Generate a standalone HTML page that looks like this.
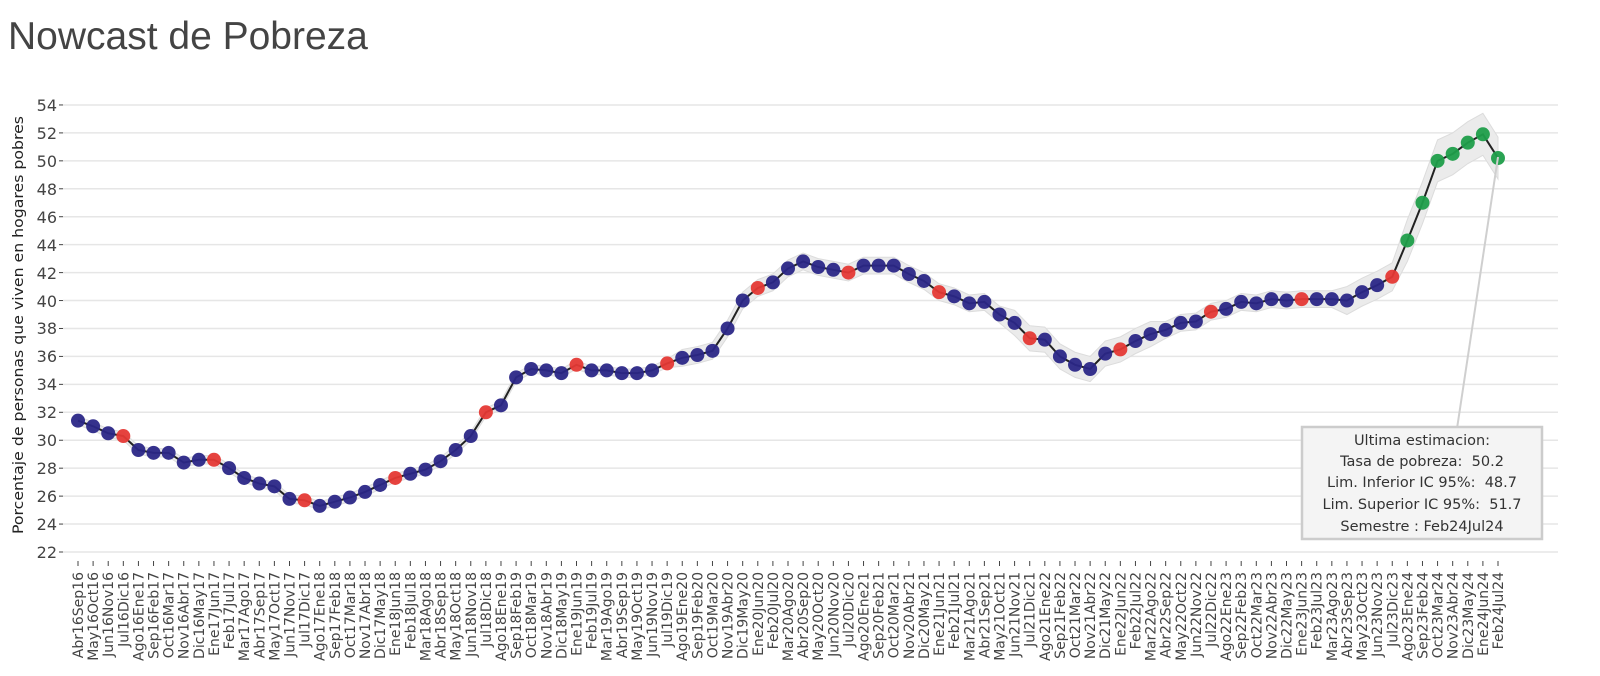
<!DOCTYPE html>
<html><head><meta charset="utf-8"><style>
html,body{margin:0;padding:0;background:#fff;width:1600px;height:676px;overflow:hidden}
svg{display:block;font-family:"DejaVu Sans",sans-serif}
</style></head><body>
<svg id="s" width="1600" height="676" xmlns="http://www.w3.org/2000/svg">
<text x="8" y="49" font-size="39" fill="#444" font-family="Liberation Sans, sans-serif">Nowcast de Pobreza</text>
<g id="grid" stroke="#e6e6e6" stroke-width="1.5"></g>
<g font-size="16" fill="#444" text-anchor="end">
<text x="57" y="111">54</text><text x="57" y="139">52</text><text x="57" y="167">50</text><text x="57" y="195">48</text>
<text x="57" y="223">46</text><text x="57" y="251">44</text><text x="57" y="279">42</text><text x="57" y="307">40</text>
<text x="57" y="334">38</text><text x="57" y="362">36</text><text x="57" y="390">34</text><text x="57" y="418">32</text>
<text x="57" y="446">30</text><text x="57" y="474">28</text><text x="57" y="502">26</text><text x="57" y="530">24</text>
<text x="57" y="558">22</text>
</g>
<text transform="translate(23,325) rotate(-90)" font-size="14" fill="#222" text-anchor="middle" textLength="418" lengthAdjust="spacingAndGlyphs">Porcentaje de personas que viven en hogares pobres</text>
<g id="band"></g><g id="line"></g><g id="pts"></g><g id="ticks" stroke="#444" stroke-width="1"></g>
<g font-size="14" fill="#444" text-anchor="end" id="xl">
<text transform="translate(83,572) rotate(-90)">Abr16Sep16</text>
<text transform="translate(98.1,572) rotate(-90)">May16Oct16</text>
<text transform="translate(113.2,572) rotate(-90)">Jun16Nov16</text>
<text transform="translate(128.3,572) rotate(-90)">Jul16Dic16</text>
<text transform="translate(143.4,572) rotate(-90)">Ago16Ene17</text>
<text transform="translate(158.5,572) rotate(-90)">Sep16Feb17</text>
<text transform="translate(173.6,572) rotate(-90)">Oct16Mar17</text>
<text transform="translate(188.7,572) rotate(-90)">Nov16Abr17</text>
<text transform="translate(203.8,572) rotate(-90)">Dic16May17</text>
<text transform="translate(218.9,572) rotate(-90)">Ene17Jun17</text>
<text transform="translate(234.1,572) rotate(-90)">Feb17Jul17</text>
<text transform="translate(249.2,572) rotate(-90)">Mar17Ago17</text>
<text transform="translate(264.3,572) rotate(-90)">Abr17Sep17</text>
<text transform="translate(279.4,572) rotate(-90)">May17Oct17</text>
<text transform="translate(294.5,572) rotate(-90)">Jun17Nov17</text>
<text transform="translate(309.6,572) rotate(-90)">Jul17Dic17</text>
<text transform="translate(324.7,572) rotate(-90)">Ago17Ene18</text>
<text transform="translate(339.8,572) rotate(-90)">Sep17Feb18</text>
<text transform="translate(354.9,572) rotate(-90)">Oct17Mar18</text>
<text transform="translate(370,572) rotate(-90)">Nov17Abr18</text>
<text transform="translate(385.1,572) rotate(-90)">Dic17May18</text>
<text transform="translate(400.2,572) rotate(-90)">Ene18Jun18</text>
<text transform="translate(415.3,572) rotate(-90)">Feb18Jul18</text>
<text transform="translate(430.4,572) rotate(-90)">Mar18Ago18</text>
<text transform="translate(445.5,572) rotate(-90)">Abr18Sep18</text>
<text transform="translate(460.7,572) rotate(-90)">May18Oct18</text>
<text transform="translate(475.8,572) rotate(-90)">Jun18Nov18</text>
<text transform="translate(490.9,572) rotate(-90)">Jul18Dic18</text>
<text transform="translate(506,572) rotate(-90)">Ago18Ene19</text>
<text transform="translate(521.1,572) rotate(-90)">Sep18Feb19</text>
<text transform="translate(536.2,572) rotate(-90)">Oct18Mar19</text>
<text transform="translate(551.3,572) rotate(-90)">Nov18Abr19</text>
<text transform="translate(566.4,572) rotate(-90)">Dic18May19</text>
<text transform="translate(581.5,572) rotate(-90)">Ene19Jun19</text>
<text transform="translate(596.6,572) rotate(-90)">Feb19Jul19</text>
<text transform="translate(611.7,572) rotate(-90)">Mar19Ago19</text>
<text transform="translate(626.8,572) rotate(-90)">Abr19Sep19</text>
<text transform="translate(641.9,572) rotate(-90)">May19Oct19</text>
<text transform="translate(657,572) rotate(-90)">Jun19Nov19</text>
<text transform="translate(672.1,572) rotate(-90)">Jul19Dic19</text>
<text transform="translate(687.2,572) rotate(-90)">Ago19Ene20</text>
<text transform="translate(702.3,572) rotate(-90)">Sep19Feb20</text>
<text transform="translate(717.5,572) rotate(-90)">Oct19Mar20</text>
<text transform="translate(732.6,572) rotate(-90)">Nov19Abr20</text>
<text transform="translate(747.7,572) rotate(-90)">Dic19May20</text>
<text transform="translate(762.8,572) rotate(-90)">Ene20Jun20</text>
<text transform="translate(777.9,572) rotate(-90)">Feb20Jul20</text>
<text transform="translate(793,572) rotate(-90)">Mar20Ago20</text>
<text transform="translate(808.1,572) rotate(-90)">Abr20Sep20</text>
<text transform="translate(823.2,572) rotate(-90)">May20Oct20</text>
<text transform="translate(838.3,572) rotate(-90)">Jun20Nov20</text>
<text transform="translate(853.4,572) rotate(-90)">Jul20Dic20</text>
<text transform="translate(868.5,572) rotate(-90)">Ago20Ene21</text>
<text transform="translate(883.6,572) rotate(-90)">Sep20Feb21</text>
<text transform="translate(898.7,572) rotate(-90)">Oct20Mar21</text>
<text transform="translate(913.8,572) rotate(-90)">Nov20Abr21</text>
<text transform="translate(928.9,572) rotate(-90)">Dic20May21</text>
<text transform="translate(944.1,572) rotate(-90)">Ene21Jun21</text>
<text transform="translate(959.2,572) rotate(-90)">Feb21Jul21</text>
<text transform="translate(974.3,572) rotate(-90)">Mar21Ago21</text>
<text transform="translate(989.4,572) rotate(-90)">Abr21Sep21</text>
<text transform="translate(1004.5,572) rotate(-90)">May21Oct21</text>
<text transform="translate(1019.6,572) rotate(-90)">Jun21Nov21</text>
<text transform="translate(1034.7,572) rotate(-90)">Jul21Dic21</text>
<text transform="translate(1049.8,572) rotate(-90)">Ago21Ene22</text>
<text transform="translate(1064.9,572) rotate(-90)">Sep21Feb22</text>
<text transform="translate(1080,572) rotate(-90)">Oct21Mar22</text>
<text transform="translate(1095.1,572) rotate(-90)">Nov21Abr22</text>
<text transform="translate(1110.2,572) rotate(-90)">Dic21May22</text>
<text transform="translate(1125.3,572) rotate(-90)">Ene22Jun22</text>
<text transform="translate(1140.4,572) rotate(-90)">Feb22Jul22</text>
<text transform="translate(1155.5,572) rotate(-90)">Mar22Ago22</text>
<text transform="translate(1170.7,572) rotate(-90)">Abr22Sep22</text>
<text transform="translate(1185.8,572) rotate(-90)">May22Oct22</text>
<text transform="translate(1200.9,572) rotate(-90)">Jun22Nov22</text>
<text transform="translate(1216,572) rotate(-90)">Jul22Dic22</text>
<text transform="translate(1231.1,572) rotate(-90)">Ago22Ene23</text>
<text transform="translate(1246.2,572) rotate(-90)">Sep22Feb23</text>
<text transform="translate(1261.3,572) rotate(-90)">Oct22Mar23</text>
<text transform="translate(1276.4,572) rotate(-90)">Nov22Abr23</text>
<text transform="translate(1291.5,572) rotate(-90)">Dic22May23</text>
<text transform="translate(1306.6,572) rotate(-90)">Ene23Jun23</text>
<text transform="translate(1321.7,572) rotate(-90)">Feb23Jul23</text>
<text transform="translate(1336.8,572) rotate(-90)">Mar23Ago23</text>
<text transform="translate(1351.9,572) rotate(-90)">Abr23Sep23</text>
<text transform="translate(1367,572) rotate(-90)">May23Oct23</text>
<text transform="translate(1382.1,572) rotate(-90)">Jun23Nov23</text>
<text transform="translate(1397.3,572) rotate(-90)">Jul23Dic23</text>
<text transform="translate(1412.4,572) rotate(-90)">Ago23Ene24</text>
<text transform="translate(1427.5,572) rotate(-90)">Sep23Feb24</text>
<text transform="translate(1442.6,572) rotate(-90)">Oct23Mar24</text>
<text transform="translate(1457.7,572) rotate(-90)">Nov23Abr24</text>
<text transform="translate(1472.8,572) rotate(-90)">Dic23May24</text>
<text transform="translate(1487.9,572) rotate(-90)">Ene24Jun24</text>
<text transform="translate(1503,572) rotate(-90)">Feb24Jul24</text>
</g>
<line x1="1498" y1="157" x2="1453" y2="455" stroke="#cfcfcf" stroke-width="2"/>
<rect x="1302" y="427" width="240" height="112" fill="#f4f4f4" stroke="#cccccc" stroke-width="2.5"/>
<g font-size="14.5" fill="#333" text-anchor="middle">
<text x="1422" y="445">Ultima estimacion:</text>
<text x="1422" y="466" xml:space="preserve">Tasa de pobreza:  50.2</text>
<text x="1422" y="487" xml:space="preserve">Lim. Inferior IC 95%:  48.7</text>
<text x="1422" y="509" xml:space="preserve">Lim. Superior IC 95%:  51.7</text>
<text x="1422" y="531">Semestre : Feb24Jul24</text>
</g>
</svg>
<script>
var v=[31.4,31.0,30.5,30.3,29.3,29.1,29.1,28.4,28.6,28.6,28.0,27.3,26.9,26.7,25.8,25.7,25.3,25.6,25.9,26.3,26.8,27.3,27.6,27.9,28.5,29.3,30.3,32.0,32.5,34.5,35.1,35.0,34.8,35.4,35.0,35.0,34.8,34.8,35.0,35.5,35.9,36.1,36.4,38.0,40.0,40.9,41.3,42.3,42.8,42.4,42.2,42.0,42.5,42.5,42.5,41.9,41.4,40.6,40.3,39.8,39.9,39.0,38.4,37.3,37.2,36.0,35.4,35.1,36.2,36.5,37.1,37.6,37.9,38.4,38.5,39.2,39.4,39.9,39.8,40.1,40.0,40.1,40.1,40.1,40.0,40.6,41.1,41.7,44.3,47.0,50.0,50.5,51.3,51.9,50.2];
var NS="http://www.w3.org/2000/svg";
function X(i){return 78+i*(1420/94);}function Y(val){return 552-(val-22)*13.97;}
function el(t,a,p){var e=document.createElementNS(NS,t);for(var k in a)e.setAttribute(k,a[k]);document.getElementById(p).appendChild(e);}
for(var g=22;g<=54;g+=2){el('line',{x1:63,x2:1558,y1:Y(g),y2:Y(g)},'grid');el('line',{x1:59,x2:63,y1:Y(g),y2:Y(g),stroke:'#444'},'ticks');}
function hw(i){if(i<40)return 0.3;if(i<62)return 0.6;if(i<72)return 0.9;if(i<84)return 0.6;if(i<88)return 1.0;return 1.5;}
var up=[],dn=[];for(var i=0;i<v.length;i++){up.push(X(i)+','+Y(v[i]+hw(i)));dn.unshift(X(i)+','+Y(v[i]-hw(i)));}
el('polygon',{points:up.concat(dn).join(' '),fill:'#ebebeb',stroke:'#dcdcdc','stroke-width':1},'band');
var pl=[];for(i=0;i<v.length;i++)pl.push(X(i)+','+Y(v[i]));
el('polyline',{points:pl.join(' '),fill:'none',stroke:'#222','stroke-width':2},'line');
for(i=0;i<v.length;i++){var c=i>=88?'#1f9e4a':((i+1)%6==4?'#e53935':'#2b2787');
el('circle',{cx:X(i),cy:Y(v[i]),r:7,fill:c,'fill-opacity':0.95},'pts');
el('line',{x1:X(i),x2:X(i),y1:561,y2:566},'ticks');}
</script>
</body></html>
